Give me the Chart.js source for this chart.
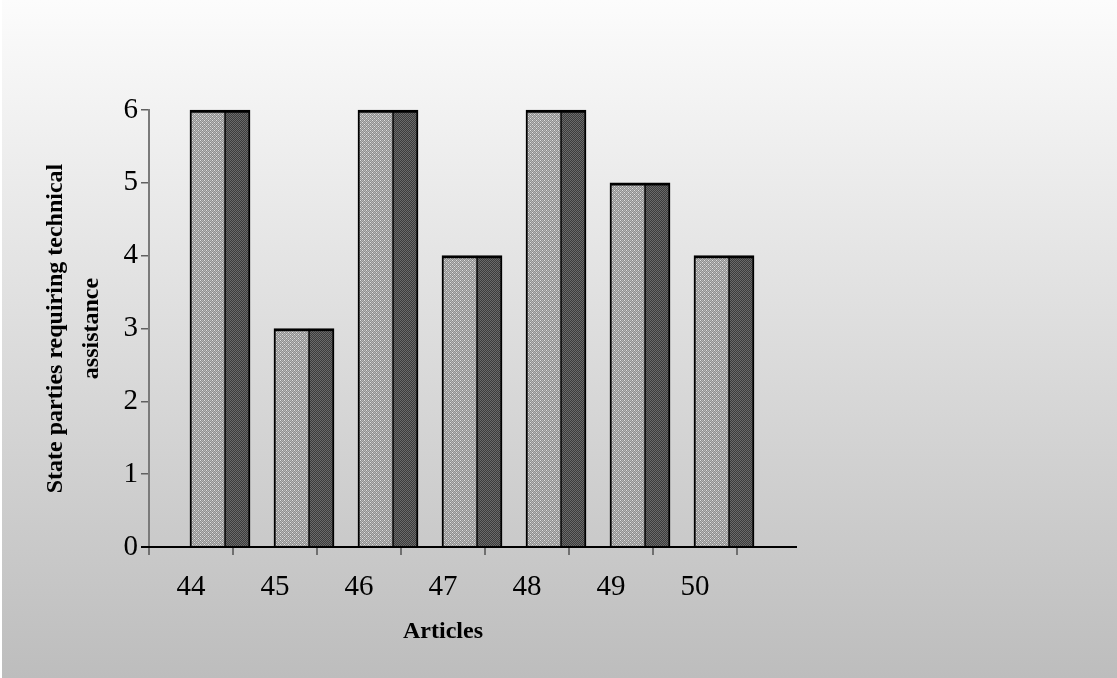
<!DOCTYPE html>
<html><head><meta charset="utf-8">
<script src="https://cdn.jsdelivr.net/npm/chart.js@4.4.0/dist/chart.umd.min.js"></script>
<style>html,body{margin:0;padding:0;background:#fff;overflow:hidden}#wrap{width:1117px;height:678px;position:relative}</style>
</head><body><div id="wrap"><canvas id="c" width="1117" height="678"></canvas></div>
<script>
// ---- data ----
const categories = ['44', '45', '46', '47', '48', '49', '50'];
const frontValues = [6, 3, 6, 4, 6, 5, 4];
const sideValues = [6, 3, 6, 4, 6, 5, 4];
const yTickStep = 1;
const yMin = 0;
const yMax = 6;
const yTitle = ['State parties requiring technical', 'assistance'];
const xTitle = 'Articles';

// ---- styling helpers ----
function makePattern(a, b, dot) {
  const p = document.createElement('canvas');
  p.width = 4; p.height = 4;
  const g = p.getContext('2d');
  for (let yy = 0; yy < 4; yy++) {
    for (let xx = 0; xx < 4; xx++) {
      g.fillStyle = ((xx + yy) % 2 === 0) ? a : b;
      g.fillRect(xx, yy, 1, 1);
    }
  }
  if (dot) { g.fillStyle = dot; g.fillRect(0, 0, 1, 1); g.fillRect(2, 2, 1, 1); }
  return g.createPattern(p, 'repeat');
}
const ctx = document.getElementById('c').getContext('2d');
const frontFill = makePattern('#b6b6b6', '#8e8e8e', '#e0e0e0');
const sideFill = makePattern('#6a6a6a', '#3c3c3c', null);

const FRONT_SHIFT = 0.196;  // 3D depth offset of front face within category
const SIDE_SHIFT = 0.554;   // offset of side face

const bgPlugin = {
  id: 'bg',
  beforeDraw(chart) {
    const c = chart.ctx, w = chart.width, h = chart.height;
    c.save();
    c.fillStyle = '#ffffff';
    c.fillRect(0, 0, w, h);
    const g = c.createLinearGradient(0, 0, 0, h);
    g.addColorStop(0, '#fcfcfc');
    g.addColorStop(1, '#bdbdbd');
    c.fillStyle = g;
    c.fillRect(2, 0, w - 2, h);
    c.restore();
  }
};
const floorPlugin = {
  id: 'floor',
  afterDatasetsDraw(chart) {
    const c = chart.ctx, x = chart.scales.x, y = chart.scales.y;
    const y0 = y.getPixelForValue(0);
    c.save();
    c.strokeStyle = '#000';
    c.lineWidth = 2;
    c.beginPath();
    c.moveTo(x.left - 8, y0);
    c.lineTo(x.right + 60, y0);
    c.stroke();
    c.restore();
  }
};

const serif = '"Liberation Serif", "Times New Roman", serif';

new Chart(ctx, {
  type: 'bar',
  data: {
    labels: categories,
    datasets: [
      {
        label: 'front',
        data: frontValues.map((v, i) => ({ x: i + FRONT_SHIFT, y: v })),
        xAxisID: 'xb', yAxisID: 'y',
        backgroundColor: frontFill,
        borderColor: '#000',
        borderWidth: { left: 2, right: 1, top: 3, bottom: 0 },
        borderSkipped: 'start',
        barThickness: 35,
        grouped: false,
        clip: false
      },
      {
        label: 'side',
        data: sideValues.map((v, i) => ({ x: i + SIDE_SHIFT, y: v })),
        xAxisID: 'xb', yAxisID: 'y',
        backgroundColor: sideFill,
        borderColor: '#000',
        borderWidth: { left: 1, right: 2, top: 3, bottom: 0 },
        borderSkipped: 'start',
        barThickness: 25,
        grouped: false,
        clip: false
      }
    ]
  },
  options: {
    responsive: false,
    animation: false,
    devicePixelRatio: 1,
    layout: { padding: { top: 110, right: 380, bottom: 0, left: 0 } },
    plugins: { legend: { display: false }, tooltip: { enabled: false } },
    scales: {
      x: {
        type: 'category',
        position: 'bottom',
        offset: true,
        grid: { offset: true, drawOnChartArea: false, drawTicks: true, tickLength: 8, color: '#707070', lineWidth: 2 },
        border: { display: false },
        ticks: { font: { family: serif, size: 29 }, color: '#000', padding: 15, maxRotation: 0 },
        title: { display: true, text: xTitle, color: '#000', font: { family: serif, size: 24, weight: 'bold' }, padding: { top: 0, bottom: 32 } },
        afterFit(s) { s.height = 131; }
      },
      xb: { type: 'linear', display: false, min: -0.5, max: 6.5, offset: false },
      y: {
        min: yMin, max: yMax,
        ticks: { stepSize: yTickStep, font: { family: serif, size: 29 }, color: '#000', padding: 3 },
        grid: { drawOnChartArea: false, tickLength: 8, color: '#606060', lineWidth: 1.5 },
        border: { display: true, color: '#7a7a7a', width: 2 },
        title: { display: true, text: yTitle, color: '#000', font: { family: serif, size: 24, weight: 'bold', lineHeight: 1.5 }, padding: { top: 38, bottom: 0 } },
        afterFit(s) { s.width = 149; }
      }
    }
  },
  plugins: [bgPlugin, floorPlugin]
});
</script>
</body></html>
